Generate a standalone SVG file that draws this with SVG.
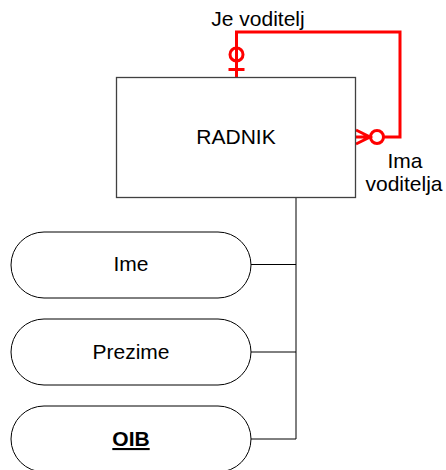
<svg xmlns="http://www.w3.org/2000/svg" width="446" height="470" viewBox="0 0 446 470">
<style>
text{font-family:"Liberation Sans",Arial,sans-serif;font-size:21px;fill:#000;text-anchor:middle}
.ent{fill:#fff;stroke:#404040;stroke-width:1.3}
.attr{fill:#fff;stroke:#000;stroke-width:1}
.conn{fill:none;stroke:#000;stroke-width:1}
.rel{fill:none;stroke:#ff0000;stroke-width:3}
</style>
<rect width="446" height="470" fill="#fff"/>
<g id="connectors">
<path class="conn" d="M296,197.5 V439 M251,264.5 H296 M251,352 H296 M251,439 H296"/>
<path class="rel" d="M236.5,78 V32 H400 V137 H384"/>
<circle class="rel" cx="236.5" cy="54.5" r="6.5"/>
<path class="rel" d="M228.5,69.5 H244.5"/>
<circle class="rel" cx="377" cy="137" r="6.5"/>
<path class="rel" d="M370.5,137 H356 M356,130 L370,137 L356,144"/>
</g>
<g id="radnik">
<rect class="ent" x="116.5" y="77.5" width="239" height="120"/>
<text x="236" y="144">RADNIK</text>
</g>
<g id="label-je-voditelj"><text x="258" y="26">Je voditelj</text></g>
<g id="label-ima-voditelja"><text x="405" y="168">Ima</text><text x="404" y="191">voditelja</text></g>
<g id="ime">
<rect class="attr" x="11" y="232" width="240" height="66" rx="33"/>
<text x="131" y="271">Ime</text>
</g>
<g id="prezime">
<rect class="attr" x="11" y="319" width="240" height="66" rx="33"/>
<text x="131" y="359">Prezime</text>
</g>
<g id="oib">
<rect class="attr" x="11" y="406" width="240" height="66" rx="33"/>
<text x="131" y="446" font-weight="bold" text-decoration="underline">OIB</text>
</g>
</svg>
